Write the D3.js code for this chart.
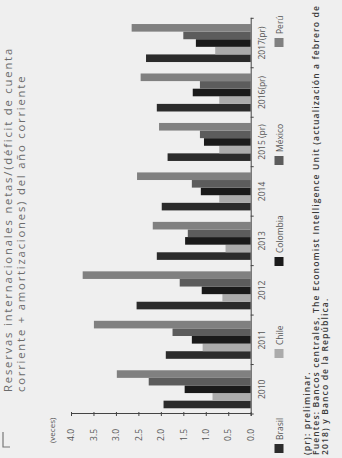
<!DOCTYPE html>
<html><head><meta charset="utf-8">
<script src="https://cdn.jsdelivr.net/npm/d3@7"></script>
<style>html,body{margin:0;padding:0;background:#efefef;} svg{display:block;}</style>
</head><body>
<svg id="c" width="342" height="458"></svg>
<script>
// ---- data ----
const years = ["2010","2011","2012","2013","2014","2015 (pr)","2016(pr)","2017(pr)"];
const countries = ["Brasil","Chile","Colombia","México","Perú"];
const brasil   = [1.94, 1.89, 2.54, 2.09, 1.98, 1.85, 2.09, 2.33];
const chile    = [0.85, 1.07, 0.63, 0.56, 0.70, 0.70, 0.70, 0.79];
const colombia = [1.47, 1.31, 1.09, 1.46, 1.11, 1.04, 1.29, 1.22];
const mexico   = [2.27, 1.74, 1.58, 1.40, 1.31, 1.13, 1.13, 1.50];
const peru     = [2.98, 3.49, 3.74, 2.18, 2.53, 2.04, 2.45, 2.65];
const yTicks = [0, 0.5, 1, 1.5, 2, 2.5, 3, 3.5, 4];
const titleLines = ["Reservas internacionales netas/(déficit de cuenta", "corriente + amortizaciones) del año corriente"];
const unitLabel = "(veces)";
const notes = ["(pr): preliminar.",
  "Fuentes: Bancos centrales, The Economist Intelligence Unit (actualización a febrero de",
  "2018) y Banco de la República."];

// ---- style / layout ----
const colors = ["#2b2b2b", "#ababab", "#1a1a1a", "#5c5c5c", "#808080"];
const series = [brasil, chile, colombia, mexico, peru];
const FONT = "'Open Sans', 'Noto Sans', sans-serif";
const W = 342, H = 458;

const svg = d3.select("#c");
svg.append("rect").attr("width", W).attr("height", H).attr("fill", "#efefef");

// the chart is drawn upright and then turned a quarter turn counter-clockwise
const g = svg.append("g").attr("transform", `translate(0,${H}) rotate(-90)`);

const x0 = d3.scaleBand().domain(years).range([44, 439.7]).paddingInner(0).paddingOuter(0);
const groupW = 38;
const x1 = d3.scaleBand().domain(countries)
  .range([(x0.bandwidth() - groupW) / 2, (x0.bandwidth() + groupW) / 2]).padding(0);
const y = d3.scaleLinear().domain([0, 4]).range([250.7, 71]);

// bars
countries.forEach((c, j) => {
  g.append("g").attr("fill", colors[j])
    .selectAll("rect").data(series[j]).join("rect")
    .attr("x", (d, i) => x0(years[i]) + x1(c))
    .attr("width", x1.bandwidth())
    .attr("y", d => y(d))
    .attr("height", d => y(0) - y(d));
});

// value axis
const ya = g.append("g").attr("transform", "translate(44,0)")
  .call(d3.axisLeft(y).tickValues(yTicks).tickFormat(d3.format(".1f")).tickSize(2).tickPadding(13));
ya.select(".domain").attr("stroke", "#444");
ya.selectAll(".tick line").attr("x1", -2).attr("x2", 2).attr("stroke", "#444");
ya.selectAll(".tick text").attr("font-family", FONT).attr("font-size", 8.5).attr("fill", "#555");

// category axis
const xa = g.append("g").attr("transform", `translate(0,${y(0)})`)
  .call(d3.axisBottom(x0).tickSize(0).tickSizeOuter(0).tickPadding(8.5));
xa.select(".domain").attr("stroke", "#444");
xa.selectAll(".tick text").attr("font-family", FONT).attr("font-size", 8.5).attr("fill", "#555");
const bounds = years.map(d => x0(d)).concat([x0.range()[1]]);
xa.selectAll(".bt").data(bounds).join("line").attr("class", "bt")
  .attr("x1", d => d).attr("x2", d => d).attr("y1", 0).attr("y2", 3).attr("stroke", "#444");

// unit label
g.append("text").attr("x", 15).attr("y", 55).text(unitLabel)
  .attr("font-family", FONT).attr("font-size", 8).attr("fill", "#555");

// legend
const legendU = [5, 100, 192, 293, 411];
countries.forEach((c, j) => {
  g.append("rect").attr("x", legendU[j]).attr("y", 274.5).attr("width", 9).attr("height", 9).attr("fill", colors[j]);
  g.append("text").attr("x", legendU[j] + 13).attr("y", 283).text(c)
    .attr("font-family", FONT).attr("font-size", 8.5).attr("fill", "#555");
});

// spacing helper: letter-spacing so a line spans the target length
function spread(sel, target) {
  const n = sel.text().length;
  const len = sel.node().getComputedTextLength();
  const s = (target - len) / n;
  sel.attr("letter-spacing", s);
  return s;
}

// title
const t1 = g.append("text").attr("x", 66).attr("y", 12).text(titleLines[0])
  .attr("font-family", FONT).attr("font-size", 11.3).attr("fill", "#6b6b6b");
const ls = spread(t1, 345);
g.append("text").attr("x", 66).attr("y", 24.5).text(titleLines[1])
  .attr("font-family", FONT).attr("font-size", 11.3).attr("letter-spacing", ls).attr("fill", "#6b6b6b");

// notes
const nb = [309.5, 318.5, 327.5];
const nts = notes.map((n, k) => g.append("text").attr("x", 3).attr("y", nb[k]).text(n)
  .attr("font-family", FONT).attr("font-size", 8.6).attr("font-weight", 600).attr("fill", "#3a3a3a"));
const nls = spread(nts[1], 450);
nts.forEach(t => t.attr("letter-spacing", nls));

// corner mark
svg.append("path").attr("d", "M3,432V447H10").attr("fill", "none").attr("stroke", "#777").attr("stroke-width", 1.2);
</script>
</body></html>
